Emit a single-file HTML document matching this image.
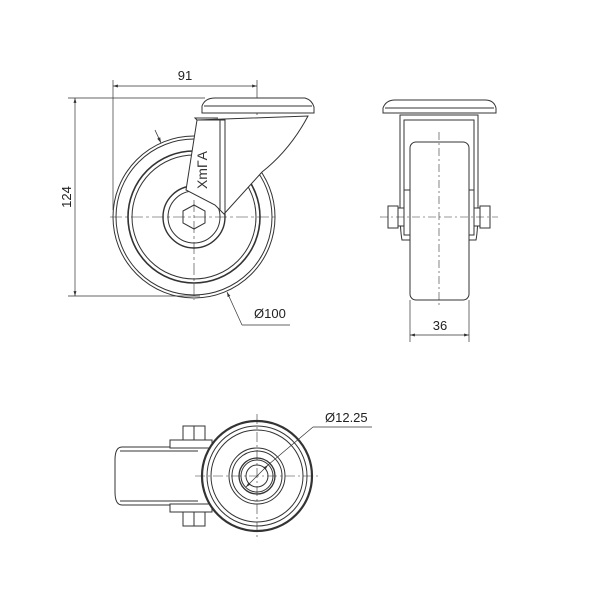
<!DOCTYPE html>
<html><head><style>body{margin:0;background:#fff}svg{display:block}</style></head><body>
<svg width="600" height="600" viewBox="0 0 600 600" xmlns="http://www.w3.org/2000/svg" font-family="Liberation Sans, sans-serif" fill="none" stroke="#333" stroke-width="1">
<defs><marker id="a" viewBox="0 0 10 10" refX="10" refY="5" markerWidth="7" markerHeight="7" orient="auto-start-reverse"><path d="M0,2 L10,5 L0,8" fill="#333" stroke="none"/></marker></defs>
<line x1="113" y1="80" x2="113" y2="210" stroke-width="0.7"/>
<line x1="257" y1="80" x2="257" y2="115" stroke-width="0.7"/>
<line x1="113" y1="86" x2="257" y2="86" stroke-width="0.7" marker-start="url(#a)" marker-end="url(#a)"/>
<text x="185" y="80" font-size="13" fill="#222" stroke="none" text-anchor="middle">91</text>
<line x1="68" y1="98" x2="205" y2="98" stroke-width="0.7"/>
<line x1="68" y1="296" x2="200" y2="296" stroke-width="0.7"/>
<line x1="75" y1="98" x2="75" y2="296" stroke-width="0.7" marker-start="url(#a)" marker-end="url(#a)"/>
<text x="71" y="197" font-size="13" fill="#222" stroke="none" text-anchor="middle" transform="rotate(-90 71 197)">124</text>
<circle cx="194" cy="217" r="81"/><circle cx="194" cy="217" r="78"/>
<circle cx="194" cy="217" r="66" stroke-width="1.6"/><circle cx="194" cy="217" r="62"/>
<circle cx="194" cy="217" r="31" stroke-width="1.4"/><circle cx="194" cy="217" r="26"/>
<path d="M202,113 L202,106 Q205,98 215,98 L305,98 Q312,100 314,107 L314,113 Z" fill="#fff"/>
<line x1="204" y1="106" x2="312" y2="106"/>
<path d="M197,120 L308,116 Q290,150 262,172 L224,214 L215,205 L186,190 Z" fill="#fff"/>
<path d="M197,120 L225,120 L225,215"/>
<path d="M220,120 L220,210"/>
<path d="M197,120 L195,118 L218,118"/>
<polygon points="183,211 194,205 205,211 205,223 194,229 183,223" fill="#fff"/>
<text x="207" y="170" font-size="14" fill="#333" stroke="none" text-anchor="middle" transform="rotate(-90 207 170)">XmΓA</text>
<line x1="110" y1="217" x2="278" y2="217" stroke-dasharray="12,3,3,3" stroke-width="0.6"/>
<line x1="194" y1="200" x2="194" y2="300" stroke-dasharray="12,3,3,3" stroke-width="0.6"/>
<line x1="155" y1="130" x2="161" y2="143" stroke-width="0.8" marker-end="url(#a)"/>
<line x1="242" y1="325" x2="227" y2="292" stroke-width="0.7" marker-end="url(#a)"/>
<line x1="242" y1="325" x2="290" y2="325" stroke-width="0.7"/>
<text x="254" y="318" font-size="13" fill="#222" stroke="none">Ø100</text>
<path d="M383,113 L383,108 Q386,100 395,100 L485,100 Q494,100 496,108 L496,113 Z" fill="#fff"/>
<line x1="385" y1="108" x2="494" y2="108"/>
<path d="M400,115 L478,115 L478,205 Q478,230 476,240 L402,240 Q400,230 400,205 Z" fill="#fff"/>
<path d="M404,120 L474,120 L474,235 L404,235 Z"/>
<rect x="410" y="142" width="59" height="158" rx="6" fill="#fff"/>
<line x1="404" y1="190" x2="410" y2="190"/><line x1="469" y1="190" x2="474" y2="190"/>
<rect x="388" y="206" width="10" height="22" fill="#fff"/><rect x="398" y="208" width="6" height="18" fill="#fff"/>
<rect x="480" y="206" width="10" height="22" fill="#fff"/><rect x="474" y="208" width="6" height="18" fill="#fff"/>
<line x1="439" y1="132" x2="439" y2="305" stroke-dasharray="8,3,2,3" stroke-width="0.6"/>
<line x1="380" y1="217" x2="498" y2="217" stroke-dasharray="8,3,2,3" stroke-width="0.6"/>
<line x1="410" y1="300" x2="410" y2="342" stroke-width="0.7"/>
<line x1="469" y1="300" x2="469" y2="342" stroke-width="0.7"/>
<line x1="410" y1="335" x2="469" y2="335" stroke-width="0.7" marker-start="url(#a)" marker-end="url(#a)"/>
<text x="440" y="330" font-size="13" fill="#222" stroke="none" text-anchor="middle">36</text>
<path d="M198,447 L122,447 Q115,447 115,460 L115,492 Q115,505 122,505 L198,505" fill="#fff"/>
<line x1="120" y1="451" x2="198" y2="451"/><line x1="120" y1="501" x2="198" y2="501"/>
<rect x="170" y="440" width="42" height="8" fill="#fff"/><rect x="170" y="504" width="42" height="8" fill="#fff"/>
<rect x="183" y="426" width="22" height="14" fill="#fff"/><line x1="194" y1="426" x2="194" y2="440"/>
<rect x="183" y="512" width="22" height="14" fill="#fff"/><line x1="194" y1="512" x2="194" y2="526"/>
<circle cx="257" cy="476" r="55" stroke-width="2.2" fill="#fff"/><circle cx="257" cy="476" r="50"/>
<circle cx="257" cy="476" r="46"/>
<circle cx="257" cy="476" r="28"/><circle cx="257" cy="476" r="25"/>
<circle cx="257" cy="476" r="18" stroke-width="1.3"/><circle cx="257" cy="476" r="16"/>
<circle cx="257" cy="476" r="11"/>
<line x1="195" y1="476" x2="320" y2="476" stroke-dasharray="10,3,2,3" stroke-width="0.6"/>
<line x1="257" y1="414" x2="257" y2="538" stroke-dasharray="10,3,2,3" stroke-width="0.6"/>
<line x1="246" y1="487" x2="268" y2="465" stroke-width="0.7" marker-start="url(#a)" marker-end="url(#a)"/>
<line x1="268" y1="465" x2="313" y2="427" stroke-width="0.7"/>
<line x1="313" y1="427" x2="372" y2="427" stroke-width="0.7"/>
<text x="325" y="422" font-size="13" fill="#222" stroke="none">Ø12.25</text>
</svg>
</body></html>
